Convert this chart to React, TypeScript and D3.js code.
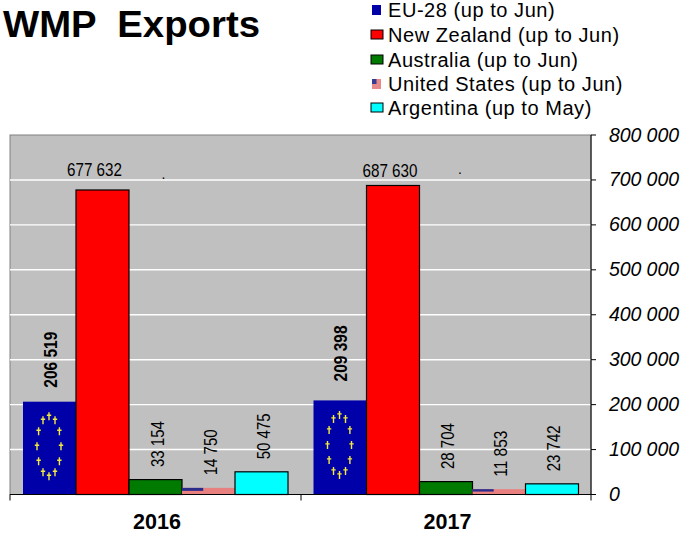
import React from "react";
import * as d3 from "d3";

const years = ["2016", "2017"];
const seriesNames = ["EU-28 (up to Jun)", "New Zealand (up to Jun)", "Australia (up to Jun)", "United States (up to Jun)", "Argentina (up to May)"];
const seriesKeys = ["EU", "NZ", "AU", "US", "AR"];
const seriesColors = ["#0000a8", "#ff0000", "#007a00", "#e88080", "#00ffff"];
const values2016 = [206519, 677632, 33154, 14750, 50475];
const values2017 = [209398, 687630, 28704, 11853, 23742];
const valueLabels2016 = ["206 519", "677 632", "33 154", "14 750", "50 475"];
const valueLabels2017 = ["209 398", "687 630", "28 704", "11 853", "23 742"];
const yTicks = [0, 100000, 200000, 300000, 400000, 500000, 600000, 700000, 800000];

const W = 682, H = 533;
const left = 10, right = 591, top = 135, bottom = 494.5;
const FONT = "Liberation Sans, Arial, sans-serif";

const y = d3.scaleLinear().domain([0, 800000]).range([bottom, top]);
const x0 = d3.scaleBand<string>().domain(years).range([left, right]);
const x1 = d3.scaleBand<string>().domain(seriesKeys).range([13, 278]);
const fmt = (v: number) => d3.format(",")(v).replace(/,/g, " ");

const STARS = d3.range(12).map((i) => (i * Math.PI) / 6);
// per-group layout nudges for the labels
const nzLabelDx = [-8, -3];
const nzLabelDy = [-14, -8];
const dotDx = [61, 67];
const boldGap = [14, 19];

function Star({ cx, cy }: { cx: number; cy: number }) {
  return <path d={`M${cx} ${cy - 4}V${cy + 4}M${cx - 2.2} ${cy - 1}H${cx + 2.2}`} stroke="#f4ea3c" strokeWidth={1.4} fill="none" />;
}

function EuFlag({ x, w, yTop }: { x: number; w: number; yTop: number }) {
  const cx = x + w / 2 - 0.5, cy = yTop + 44.5;
  return (
    <g>
      {STARS.map((a, i) => (
        <Star key={i} cx={cx + 12 * Math.sin(a)} cy={cy - 30 * Math.cos(a)} />
      ))}
    </g>
  );
}

export default function App() {
  const rows = [
    { year: years[0], vals: values2016, labels: valueLabels2016 },
    { year: years[1], vals: values2017, labels: valueLabels2017 },
  ];
  const legendY = [10, 35, 60, 84, 108];
  return (
    <svg width={W} height={H} viewBox={`0 0 ${W} ${H}`} style={{ position: "absolute", left: 0, top: 0, background: "#fff" }} fontFamily={FONT}>
      <text x={3} y={37} fontSize={36} fontWeight="bold" xmlSpace="preserve" textLength={257} lengthAdjust="spacingAndGlyphs" style={{ whiteSpace: "pre" }} fill="#000">WMP  Exports</text>

      {seriesNames.map((n, i) => {
        const yy = legendY[i];
        const small = i === 0 || i === 3;
        return (
          <g key={n}>
            {i === 3 ? (
              <g>
                <rect x={372} y={yy - 5} width={9} height={10} fill="#e88a8a" />
                <rect x={372} y={yy - 5} width={4.5} height={5} fill="#3a3a90" />
              </g>
            ) : (
              <rect x={small ? 372 : 371} y={yy - 5} width={small ? 9 : 12} height={small ? 10 : 9}
                fill={seriesColors[i]} stroke={small ? "none" : "#000"} strokeWidth={1} />
            )}
            <text x={388} y={yy + 7} fontSize={20} fill="#000" letterSpacing={0.55}>{n}</text>
          </g>
        );
      })}

      <rect x={left} y={top} width={right - left} height={bottom - top} fill="#c0c0c0" stroke="#808080" strokeWidth={1} />
      {yTicks.slice(1, -1).map((t) => (
        <line key={t} x1={left} x2={right} y1={y(t)} y2={y(t)} stroke="#fff" strokeWidth={1.4} />
      ))}

      {rows.map((r, ri) => {
        const gx = x0(r.year) as number;
        return (
          <g key={r.year}>
            {seriesKeys.map((k, i) => {
              const bx = gx + (x1(k) as number);
              const bw = x1.bandwidth();
              const v = r.vals[i];
              const yTop = y(v);
              const h = bottom - yTop;
              if (k === "EU") {
                return (
                  <g key={k}>
                    <rect x={bx} y={yTop} width={bw} height={h} fill={seriesColors[0]} />
                    <EuFlag x={bx} w={bw} yTop={yTop} />
                  </g>
                );
              }
              if (k === "US") {
                return (
                  <g key={k}>
                    <rect x={bx} y={yTop} width={bw} height={h} fill={seriesColors[3]} />
                    <rect x={bx} y={yTop} width={bw * 0.4} height={h * 0.45} fill="#2b2b8c" />
                  </g>
                );
              }
              return <rect key={k} x={bx} y={yTop} width={bw} height={h} fill={seriesColors[i]} stroke="#000" strokeWidth={1.2} />;
            })}
            {seriesKeys.map((k, i) => {
              const cx = gx + (x1(k) as number) + x1.bandwidth() / 2;
              const v = r.vals[i];
              if (k === "NZ") {
                return (
                  <g key={k}>
                    <text x={cx + nzLabelDx[ri]} y={y(v) + nzLabelDy[ri]} textAnchor="middle" fontSize={18.5} textLength={55} lengthAdjust="spacingAndGlyphs" fill="#000">{r.labels[i]}</text>
                    <text x={cx + dotDx[ri]} y={y(v) - 11} textAnchor="middle" fontSize={14} fill="#000">.</text>
                  </g>
                );
              }
              const bold = k === "EU";
              const ly = y(v) - (bold ? boldGap[ri] : 12.5);
              return (
                <text key={k} transform={`translate(${cx + (bold ? 7 : 8)},${ly}) rotate(-90)`} fontSize={bold ? 18 : 18.5}
                  fontWeight={bold ? "bold" : "normal"} textLength={bold ? 56 : 46} lengthAdjust="spacingAndGlyphs" fill="#000">{r.labels[i]}</text>
              );
            })}
            <text x={gx + 147} y={529} textAnchor="middle" fontSize={21.5} fontWeight="bold" fill="#000">{r.year}</text>
          </g>
        );
      })}

      <line x1={left} x2={right} y1={bottom} y2={bottom} stroke="#000" strokeWidth={1} />
      {[left, left + 291, right].map((xx) => (
        <line key={xx} x1={xx} x2={xx} y1={bottom} y2={bottom + 6} stroke="#000" strokeWidth={1} />
      ))}
      <line x1={right} x2={right} y1={top} y2={bottom} stroke="#000" strokeWidth={1} />
      {yTicks.map((t) => (
        <g key={t}>
          <line x1={right} x2={right + 5} y1={y(t)} y2={y(t)} stroke="#000" strokeWidth={1} />
          {t === 0 ? (
            <text x={609} y={y(t) + 6.5} fontSize={19.5} fontStyle="italic" fill="#000">{fmt(t)}</text>
          ) : (
            <text x={609} y={y(t) + 6.5} fontSize={19.5} fontStyle="italic" fill="#000" textLength={70} lengthAdjust="spacing">{fmt(t)}</text>
          )}
        </g>
      ))}
    </svg>
  );
}
